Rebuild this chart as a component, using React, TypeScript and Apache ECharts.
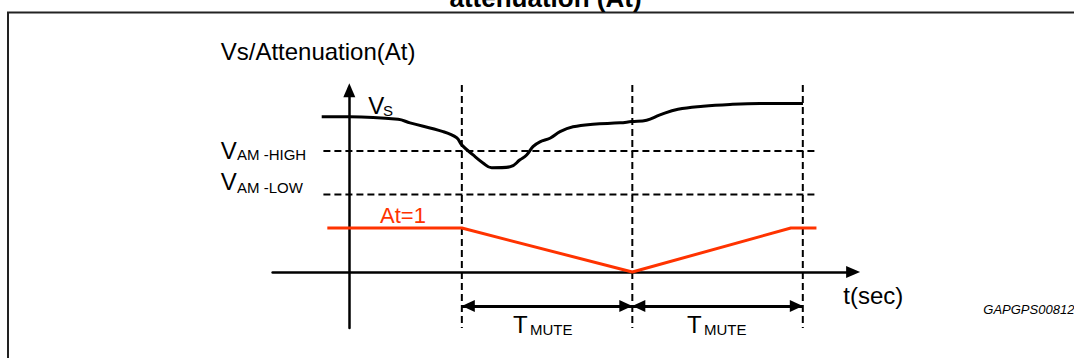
import React, { useEffect, useRef } from "react";
import * as echarts from "echarts";

const FONT = '"Liberation Sans", Arial, Helvetica, sans-serif';
const RED = "#FF3300";
const INK = "#000000";

// time axis in arbitrary units (one T_MUTE = 10 units)
const muteBoundaries = [6.6, 16.6, 26.6];
const boundaryExtent = [-1.27, 4.25];

// Vs curve (arbitrary units, At = 1 on same scale)
const vsTime = [-1.62, 0.04, 2.86, 3.56, 5.5, 6.3, 6.59, 7.26, 7.84, 8.35, 9.43, 10.01, 10.4, 10.77, 11.18, 11.77, 12.36, 13.12, 14.29, 15.88, 16.56, 17.44, 18.22, 19.28, 20.75, 22.33, 24.09, 26.61];
const vsValue = [3.53, 3.53, 3.47, 3.39, 3.19, 3.05, 2.89, 2.66, 2.48, 2.37, 2.39, 2.55, 2.66, 2.85, 2.96, 3.04, 3.19, 3.3, 3.36, 3.39, 3.42, 3.45, 3.57, 3.7, 3.77, 3.81, 3.83, 3.83];

// Attenuation
const atTime = [-1.29, 6.6, 16.6, 25.9, 27.4];
const atValue = [1, 1, 0, 1, 1];

// thresholds
const thresholdLabels = ["AM -HIGH", "AM -LOW"];
const thresholdValues = [2.75, 1.76];
const thresholdExtent = [-1.52, 27.4];

const muteArrowLevel = -0.77;
const muteLabel = "MUTE";

export default function App() {
  const ref = useRef<HTMLDivElement>(null);

  useEffect(() => {
    if (!ref.current) return;
    const chart = echarts.init(ref.current, undefined, { renderer: "svg" });

    const dashed = { color: INK, width: 2, type: [7, 4] as any };

    const series: any[] = [];
    thresholdValues.forEach((v, i) => {
      series.push({
        type: "line",
        name: "V" + thresholdLabels[i],
        data: [[thresholdExtent[0], v], [thresholdExtent[1], v]],
        showSymbol: false,
        clip: false,
        silent: true,
        lineStyle: dashed,
        z: 1,
      });
    });
    muteBoundaries.forEach((t, i) => {
      series.push({
        type: "line",
        name: "boundary" + i,
        data: [[t, boundaryExtent[1]], [t, boundaryExtent[0]]],
        showSymbol: false,
        clip: false,
        silent: true,
        lineStyle: dashed,
        z: 1,
      });
    });
    series.push({
      type: "line",
      name: "Vs",
      data: vsTime.map((t, i) => [t, vsValue[i]]),
      smooth: 0.4,
      showSymbol: false,
      clip: false,
      silent: true,
      lineStyle: { color: INK, width: 3 },
      z: 3,
    });
    series.push({
      type: "line",
      name: "At",
      data: atTime.map((t, i) => [t, atValue[i]]),
      showSymbol: false,
      clip: false,
      silent: true,
      lineStyle: { color: RED, width: 3 },
      z: 4,
    });
    series.push({
      type: "line",
      name: "TMUTE",
      data: [],
      clip: false,
      silent: true,
      markLine: {
        silent: true,
        symbol: ["triangle", "triangle"],
        symbolSize: [12, 13],
        symbolOffset: [[0, 6.5], [0, 6.5]],
        label: { show: false },
        lineStyle: { color: INK, width: 3, type: "solid" },
        emphasis: { disabled: true },
        data: [
          [{ coord: [muteBoundaries[0], muteArrowLevel] }, { coord: [muteBoundaries[1], muteArrowLevel] }],
          [{ coord: [muteBoundaries[1], muteArrowLevel] }, { coord: [muteBoundaries[2], muteArrowLevel] }],
        ],
      },
    });

    const txt = (x: number, y: number, text: string, fontSize: number, extra: any = {}) => ({
      type: "text",
      x,
      y,
      silent: true,
      z: 10,
      style: {
        text,
        fontSize,
        fontFamily: FONT,
        fill: INK,
        align: "left",
        verticalAlign: "middle",
        ...extra,
      },
    });

    const graphic: any[] = [
      {
        type: "rect",
        silent: true,
        z: 0,
        shape: { x: 8, y: 12.5, width: 1200, height: 500 },
        style: { fill: "none", stroke: "#222", lineWidth: 2 },
      },
      txt(545.5, -2.5, "attenuation (At)", 26, { fontWeight: "bold", align: "center" }),
      txt(220.7, 51.7, "Vs/Attenuation(At)", 24),
      txt(368.3, 105, "V", 24),
      txt(383, 110.8, "S", 15),
      txt(220.7, 150, "V", 24),
      txt(237, 154.1, thresholdLabels[0], 15),
      txt(220.7, 181, "V", 24),
      txt(237, 187.1, thresholdLabels[1], 15),
      txt(380, 215.7, "At=1", 22, { fill: RED }),
      txt(843.3, 295, "t(sec)", 24),
      txt(513, 324.4, "T", 24),
      txt(530, 329.8, muteLabel, 15),
      txt(687, 324.4, "T", 24),
      txt(704, 329.8, muteLabel, 15),
      txt(983.3, 309, "GAPGPS00812", 13, { fontStyle: "italic" }),
    ];

    const axisLine = {
      show: true,
      onZero: true,
      symbol: ["none", "triangle"],
      symbolSize: [12, 14],
      lineStyle: { color: INK, width: 2.5 },
    };

    chart.setOption({
      animation: false,
      backgroundColor: "#ffffff",
      grid: { left: 272.6, top: 90.3, width: 580.5, height: 237.6, containLabel: false },
      xAxis: {
        type: "value",
        min: -4.5,
        max: 29.55,
        axisLine,
        axisTick: { show: false },
        axisLabel: { show: false },
        splitLine: { show: false },
      },
      yAxis: {
        type: "value",
        min: -1.27,
        max: 4.13,
        axisLine,
        axisTick: { show: false },
        axisLabel: { show: false },
        splitLine: { show: false },
      },
      series,
      graphic,
    });

    return () => chart.dispose();
  }, []);

  return (
    <div
      ref={ref}
      style={{ position: "absolute", left: 0, top: 0, width: 1074, height: 358, background: "#fff" }}
    />
  );
}
